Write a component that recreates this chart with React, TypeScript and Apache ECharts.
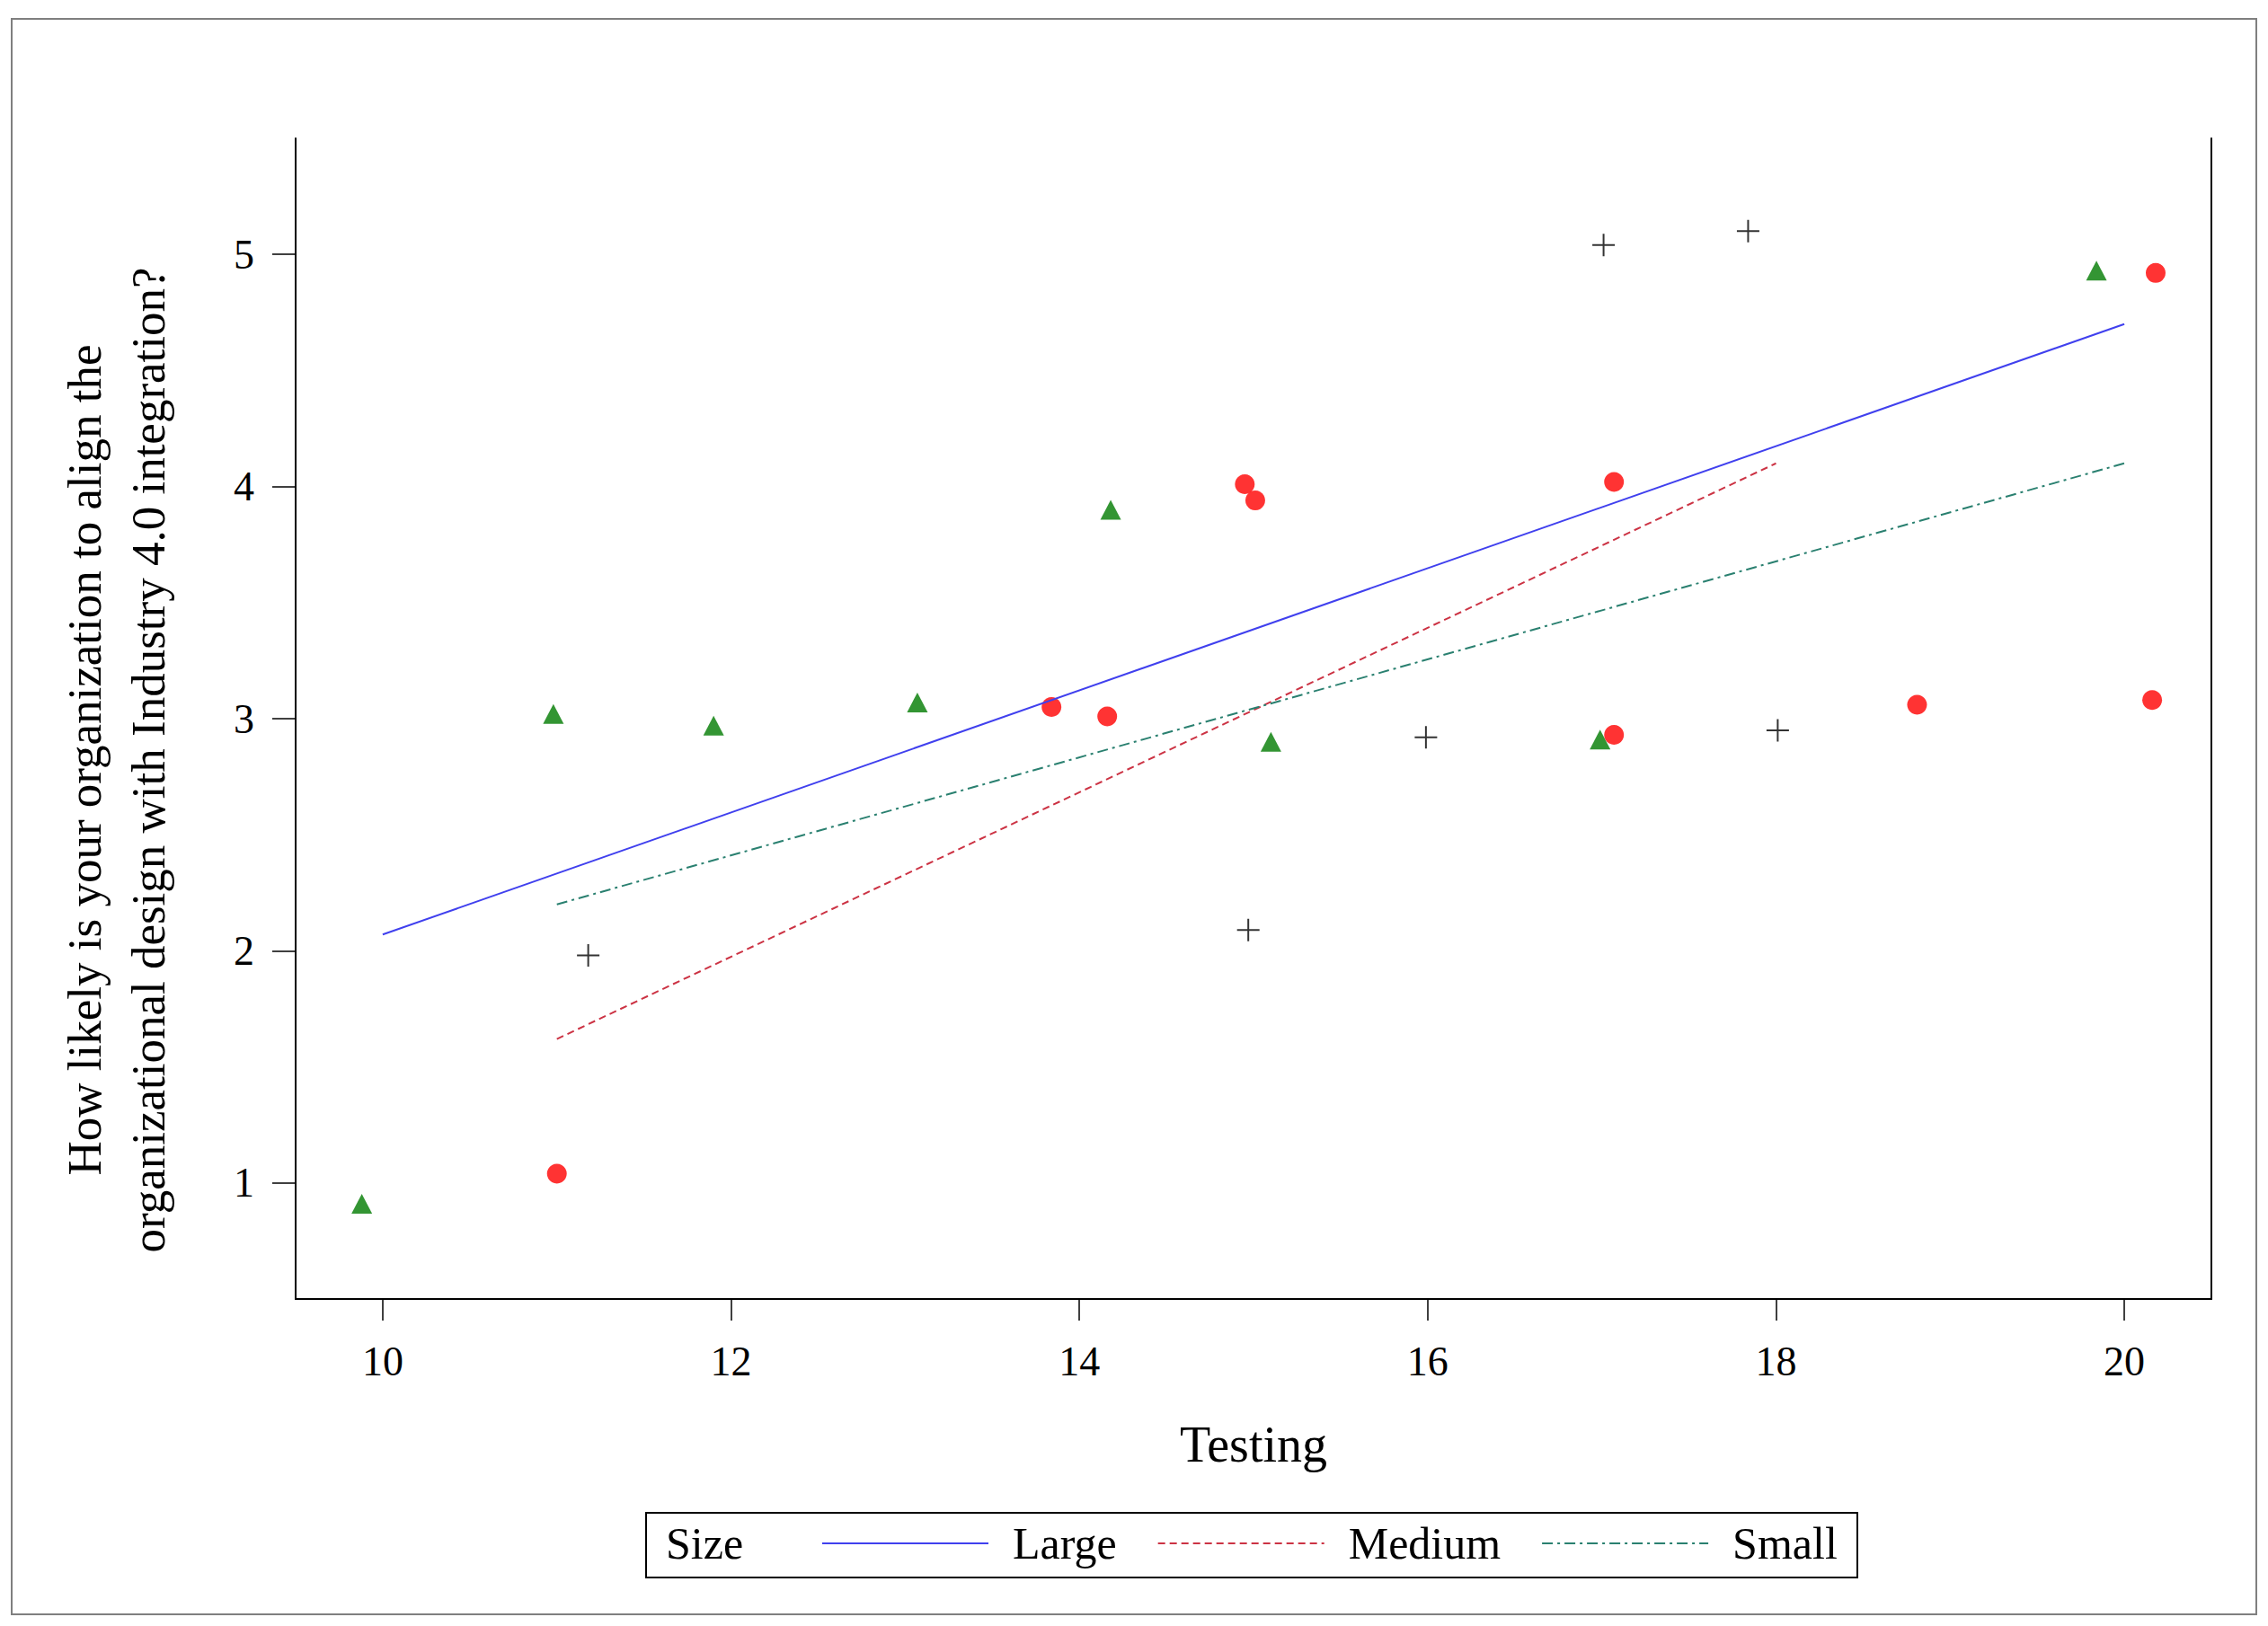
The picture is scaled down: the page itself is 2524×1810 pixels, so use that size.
import React, { useEffect, useRef } from "react";
import * as echarts from "echarts";

// Tick labels
const xTicks = [10, 12, 14, 16, 18, 20];
const yTicks = [1, 2, 3, 4, 5];

// Group names (legend)
const groups = ["Large", "Medium", "Small"];

// Observed points per group [Testing, Likelihood]
const largePoints = [
  [9.88, 0.91], [10.98, 3.02], [11.9, 2.97], [13.07, 3.07],
  [14.18, 3.9], [15.1, 2.9], [16.99, 2.91], [19.84, 4.93],
];
const mediumPoints = [
  [11.18, 1.98], [14.97, 2.09], [15.99, 2.92], [17.01, 5.04],
  [17.84, 5.1], [18.01, 2.95],
];
const smallPoints = [
  [11.0, 1.04], [13.84, 3.05], [14.16, 3.01], [14.95, 4.01],
  [15.01, 3.94], [17.07, 4.02], [17.07, 2.93], [18.81, 3.06],
  [20.16, 3.08], [20.18, 4.92],
];

// Regression fit endpoints per group
const largeFit = [[10, 2.07], [20, 4.7]];
const mediumFit = [[11, 1.62], [18, 4.1]];
const smallFit = [[11, 2.2], [20, 4.1]];

const FONT = '"Liberation Serif", "Times New Roman", serif';

export default function App() {
  const ref = useRef<HTMLDivElement>(null);
  useEffect(() => {
    if (!ref.current) return;
    const chart = echarts.init(ref.current, undefined, { renderer: "svg" });
    const option = {
      animation: false,
      backgroundColor: "#ffffff",
      textStyle: { fontFamily: FONT },
      grid: { left: 329, top: 154, width: 2132, height: 1292, containLabel: false },
      xAxis: {
        type: "value",
        min: 9.5,
        max: 20.5,
        name: "Testing",
        nameLocation: "middle",
        nameGap: 134,
        nameTextStyle: { fontFamily: FONT, fontSize: 56, color: "#000", lineHeight: 56 },
        axisLine: { show: true, onZero: false, lineStyle: { color: "#000", width: 2 } },
        axisTick: { show: true, length: 24, customValues: xTicks, lineStyle: { color: "#000", width: 1.5 } },
        axisLabel: { customValues: xTicks, margin: 46, fontFamily: FONT, fontSize: 46, color: "#000" },
        splitLine: { show: false },
      },
      yAxis: [
        {
          type: "value",
          min: 0.5,
          max: 5.5,
          name: "How likely is your organization to align the\norganizational design with Industry 4.0 integration?",
          nameLocation: "middle",
          nameRotate: 90,
          nameGap: 129,
          nameTextStyle: {
            fontFamily: FONT, fontSize: 53, color: "#000", lineHeight: 71,
            align: "center", padding: [0, 92, 0, 0],
          },
          axisLine: { show: true, onZero: false, lineStyle: { color: "#000", width: 2 } },
          axisTick: { show: true, length: 26, customValues: yTicks, lineStyle: { color: "#000", width: 1.5 } },
          axisLabel: { customValues: yTicks, margin: 46, fontFamily: FONT, fontSize: 46, color: "#000" },
          splitLine: { show: false },
        },
        {
          type: "value",
          min: 0.5,
          max: 5.5,
          position: "right",
          axisLine: { show: true, onZero: false, lineStyle: { color: "#000", width: 2 } },
          axisTick: { show: false },
          axisLabel: { show: false },
          splitLine: { show: false },
        },
      ],
      legend: {
        data: groups,
        orient: "horizontal",
        left: 914,
        top: 1688,
        padding: 0,
        itemWidth: 185,
        itemHeight: 20,
        itemGap: 45,
        itemStyle: { opacity: 0 },
        textStyle: { fontFamily: FONT, fontSize: 50, color: "#000", lineHeight: 60, padding: [0, 0, 0, 22] },
        selectedMode: false,
      },
      graphic: [
        {
          type: "rect",
          shape: { x: 13, y: 21, width: 2498, height: 1776 },
          style: { fill: "none", stroke: "#7f7f7f", lineWidth: 2 },
          silent: true,
        },
        {
          type: "rect",
          shape: { x: 719, y: 1684, width: 1348, height: 72 },
          style: { fill: "none", stroke: "#000", lineWidth: 2 },
          silent: true,
        },
        {
          type: "text",
          x: 741,
          y: 1718,
          style: { text: "Size", fontFamily: FONT, fontSize: 50, fill: "#000", verticalAlign: "middle", align: "left" },
          silent: true,
        },
      ],
      series: [
        {
          name: "Large points",
          type: "scatter",
          data: largePoints,
          symbol: "triangle",
          symbolSize: [23, 22],
          itemStyle: { color: "#007a00" },
          z: 2,
        },
        {
          name: "Medium points",
          type: "scatter",
          data: mediumPoints,
          symbol: "path://M12,0 L12,24 M0,12 L24,12",
          symbolSize: 25,
          itemStyle: { color: "rgba(0,0,0,0)", borderColor: "#000", borderWidth: 2 },
          z: 2,
        },
        {
          name: "Small points",
          type: "scatter",
          data: smallPoints,
          symbol: "circle",
          symbolSize: 22,
          itemStyle: { color: "#ff0000" },
          z: 2,
        },
        {
          name: "Large",
          type: "line",
          data: largeFit,
          symbol: "none",
          lineStyle: { color: "#4040ee", width: 2, type: "solid" },
          itemStyle: { color: "#4040ee" },
          z: 3,
        },
        {
          name: "Medium",
          type: "line",
          data: mediumFit,
          symbol: "none",
          lineStyle: { color: "#cc3344", width: 2, type: [8, 5] },
          itemStyle: { color: "#cc3344" },
          z: 3,
        },
        {
          name: "Small",
          type: "line",
          data: smallFit,
          symbol: "none",
          lineStyle: { color: "#2a8070", width: 2, type: [12, 5, 3, 5] },
          itemStyle: { color: "#2a8070" },
          z: 3,
        },
      ],
    };
    chart.setOption(option as any);
    return () => chart.dispose();
  }, []);
  return (
    <div
      ref={ref}
      style={{ position: "absolute", left: 0, top: 0, width: 2524, height: 1810 }}
    />
  );
}
